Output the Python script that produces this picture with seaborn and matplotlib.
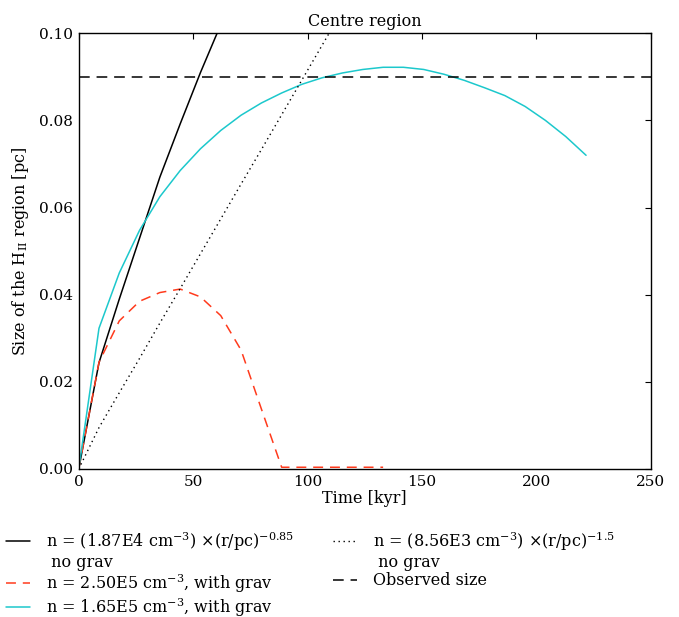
import numpy as np
import pandas as pd
import matplotlib
matplotlib.use("Agg")
import matplotlib.pyplot as plt
from matplotlib.lines import Line2D
import seaborn as sns

# ---------------- data ----------------
# black solid: power law w=0.85, no gravity
t_black = [0.0, 8.87, 17.74, 26.61, 35.48, 44.35, 53.22, 62.09, 70.96]
r_black = [0.0, 0.0244, 0.0390, 0.0530, 0.0670, 0.0792, 0.0910, 0.1020, 0.1125]

# red dashed: n = 2.50E5, with grav
t_red = [0.0, 8.87, 17.74, 26.61, 35.48, 44.35, 53.22, 62.09, 70.96, 79.83,
         88.70, 97.57, 106.44, 115.31, 124.18, 133.05]
r_red = [0.0, 0.0245, 0.0340, 0.0385, 0.0405, 0.0413, 0.0395, 0.0352, 0.0273,
         0.0138, 0.0004, 0.0004, 0.0004, 0.0004, 0.0004, 0.0004]

# cyan solid: n = 1.65E5, with grav
t_cyan = [0.0, 8.87, 17.74, 26.61, 35.48, 44.35, 53.22, 62.09, 70.96, 79.83,
          88.70, 97.57, 106.44, 115.31, 124.18, 133.05, 141.92, 150.79, 159.66,
          168.53, 177.40, 186.27, 195.14, 204.01, 212.88, 221.75]
r_cyan = [0.0, 0.0323, 0.0450, 0.0548, 0.0625, 0.0685, 0.0735, 0.0777, 0.0812,
          0.0840, 0.0863, 0.0883, 0.0898, 0.0909, 0.0917, 0.0922, 0.0922, 0.0917,
          0.0906, 0.0892, 0.0875, 0.0857, 0.0832, 0.0800, 0.0763, 0.0720]

# black dotted: power law w=1.5, no gravity
t_dot = [0.0, 8.87, 17.74, 26.61, 35.48, 44.35, 53.22, 62.09, 70.96, 79.83,
         88.70, 97.57, 106.44, 115.31]
r_dot = [0.0, 0.0095, 0.0175, 0.0254, 0.0335, 0.0414, 0.0494, 0.0574, 0.0654,
         0.0733, 0.0813, 0.0893, 0.0973, 0.1053]

observed_size = 0.09

label_black = r"n = (1.87E4 cm$^{-3}$) $\times$(r/pc)$^{-0.85}$"
label_red = r"n = 2.50E5 cm$^{-3}$, with grav"
label_cyan = r"n = 1.65E5 cm$^{-3}$, with grav"
label_dot = r"n = (8.56E3 cm$^{-3}$) $\times$(r/pc)$^{-1.5}$"
label_obs = "Observed size"
label_nograv = " no grav"

x_ticks = [0, 50, 100, 150, 200, 250]
y_ticks = [0.00, 0.02, 0.04, 0.06, 0.08, 0.10]

# ---------------- style ----------------
sns.set_style("white")
plt.rcParams["font.family"] = ["DejaVu Serif"]
plt.rcParams["mathtext.fontset"] = "dejavuserif"
plt.rcParams["font.size"] = 11.5
plt.rcParams["xtick.direction"] = "in"
plt.rcParams["ytick.direction"] = "in"
plt.rcParams["xtick.top"] = True
plt.rcParams["ytick.right"] = True
plt.rcParams["xtick.major.size"] = 4
plt.rcParams["ytick.major.size"] = 4
plt.rcParams["axes.edgecolor"] = "black"
plt.rcParams["axes.linewidth"] = 1.0
plt.rcParams["xtick.color"] = "black"
plt.rcParams["ytick.color"] = "black"
plt.rcParams["text.color"] = "black"
plt.rcParams["axes.labelcolor"] = "black"

fig = plt.figure(figsize=(6.79, 6.17), dpi=100)
ax = fig.add_axes([78.7 / 679, 1 - 469 / 617, 572 / 679, 435.7 / 617])

red = "#ff3a1c"
cyan = "#1cc8cc"

sns.lineplot(x=t_black, y=r_black, ax=ax, color="black", lw=1.1,
             label=label_black, sort=False)
sns.lineplot(x=t_red, y=r_red, ax=ax, color=red, lw=1.1,
             linestyle=(0, (6.5, 4.5)), label=label_red, sort=False)
sns.lineplot(x=t_cyan, y=r_cyan, ax=ax, color=cyan, lw=1.1,
             label=label_cyan, sort=False)
sns.lineplot(x=t_dot, y=r_dot, ax=ax, color="black", lw=1.0,
             linestyle=(0, (1, 2.6)), label=label_dot, sort=False)
ax.axhline(observed_size, color="black", lw=1.1, linestyle=(0, (7, 4.5)),
           label=label_obs)

ax.set_xlim(0, 250)
ax.set_ylim(0, 0.10)
ax.set_xticks(x_ticks)
ax.set_yticks(y_ticks)
ax.set_yticklabels([f"{v:.2f}" for v in y_ticks])
ax.tick_params(axis="both", labelsize=11, pad=4, width=0.8)
ax.set_xlabel("Time [kyr]", fontsize=11.5, labelpad=1)
ax.set_ylabel(r"Size of the H$_{\rm II}$ region [pc]", fontsize=11.5, labelpad=6)
ax.set_title("Centre region", fontsize=11.5, pad=5)

handles, labs = ax.get_legend_handles_labels()
ax.legend_.remove()
blank = Line2D([], [], linestyle="none", marker=None)
# column 1: black, (no grav), red, cyan ; column 2: dotted, (no grav), observed
leg_handles = [handles[0], blank, handles[1], handles[2],
               handles[3], blank, handles[4]]
leg_labels = [labs[0], label_nograv, labs[1], labs[2],
              labs[3], label_nograv, labs[4]]
leg = fig.legend(leg_handles, leg_labels, loc="upper left",
                 bbox_to_anchor=(0.0, 0.1525), ncol=2, frameon=False,
                 fontsize=11.5, handlelength=1.5, handletextpad=1.0,
                 columnspacing=2.4, labelspacing=0.08, borderaxespad=0.0)

fig.savefig("out.png", dpi=100)
